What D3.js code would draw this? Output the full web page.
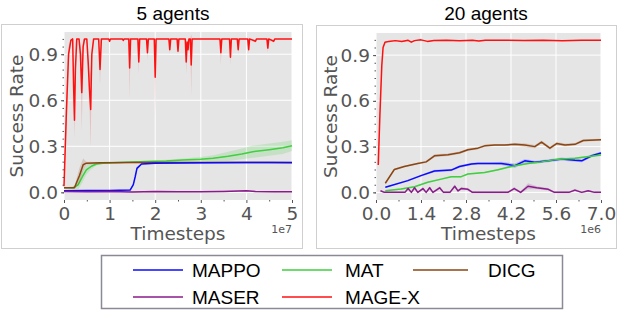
<!DOCTYPE html>
<meta charset="utf-8">
<style>
body { margin: 0; background: white; }
svg { display: block; }
.tick text { font-family: 'DejaVu Sans'; }
</style>
<body>
<div id="my_dataviz"></div>
<script src="https://d3js.org/d3.v7.min.js"></script>
<script>

// ---- data : [timestep, mean success, spread] ----

// 5 agents (x in 1e7)
var mageX5 = [
  [0,0.04,0],[0.05,0.5,0.1],[0.1,0.9,0.05],[0.15,0.99,0.01],[0.19,1.0,0],[0.21,0.7,0.1],
  [0.23,0.47,0.12],[0.25,0.8,0.05],[0.28,1.0,0],[0.33,1.0,0],[0.36,0.9,0.05],[0.39,0.65,0.25],
  [0.42,0.95,0.05],[0.45,1.0,0],[0.5,1.0,0],[0.53,0.85,0.05],[0.56,0.66,0.1],[0.585,0.54,0.25],
  [0.61,0.9,0.05],[0.65,1.0,0],[0.76,1.0,0],[0.79,0.8,0.1],[0.82,1.0,0],[0.98,1.0,0],
  [1.0,0.985,0.01],[1.02,1.0,0],[1.28,1.0,0],[1.3,0.99,0.01],[1.32,1.0,0],[1.42,1.0,0],
  [1.44,0.81,0.2],[1.46,1.0,0],[1.62,1.0,0],[1.64,0.85,0.08],[1.66,1.0,0],[1.81,1.0,0],
  [1.83,0.91,0.05],[1.85,1.0,0],[1.98,1.0,0],[2.0,0.75,0.25],[2.02,1.0,0],[2.3,1.0,0],
  [2.32,0.93,0.03],[2.34,1.0,0],[2.48,1.0,0],[2.5,0.92,0.03],[2.52,1.0,0],[2.66,1.0,0],
  [2.68,0.85,0.08],[2.7,0.98,0.02],[2.72,0.93,0.05],[2.74,1.0,0],[2.77,1.0,0],[2.79,0.83,0.2],
  [2.81,1.0,0],[3.42,1.0,0],[3.44,0.91,0.08],[3.46,1.0,0],[3.63,1.0,0],[3.65,0.88,0.05],
  [3.67,1.0,0],[3.8,1.0,0],[3.82,0.93,0.03],[3.84,1.0,0],[4.03,1.0,0],[4.05,0.93,0.03],
  [4.07,1.0,0],[4.2,0.985,0.01],[4.22,1.0,0],[4.45,1.0,0],[4.47,0.94,0.03],[4.49,1.0,0],
  [4.6,0.985,0.01],[4.62,1.0,0],[5.0,1.0,0]
];
var mat5 = [
  [0,0.03,0],[0.2,0.03,0.01],[0.31,0.048,0.03],[0.4,0.1,0.04],[0.49,0.146,0.03],[0.6,0.17,0.02],
  [0.71,0.185,0.01],[0.85,0.19,0.005],[1.07,0.193,0.005],[1.5,0.198,0.005],[2.0,0.202,0.006],
  [2.24,0.204,0.008],[2.6,0.21,0.01],[3.0,0.215,0.015],[3.27,0.222,0.02],[3.6,0.235,0.03],
  [3.9,0.25,0.035],[4.14,0.265,0.04],[4.5,0.278,0.04],[4.8,0.29,0.04],[5.0,0.304,0.035]
];
var dicg5 = [
  [0,0.03,0],[0.23,0.03,0.005],[0.285,0.07,0.03],[0.34,0.11,0.05],[0.42,0.18,0.04],
  [0.49,0.19,0.01],[0.8,0.193,0.005],[1.5,0.194,0.004],[2.5,0.194,0.004],[3.5,0.195,0.004],
  [4.5,0.194,0.004],[5.0,0.193,0.004]
];
var mappo5 = [
  [0,0.01,0],[0.5,0.012,0.003],[1.0,0.012,0.003],[1.45,0.015,0.004],[1.52,0.05,0.01],
  [1.56,0.1,0.01],[1.6,0.156,0.01],[1.7,0.185,0.005],[2.0,0.19,0.004],[3.0,0.192,0.004],
  [4.0,0.195,0.004],[5.0,0.195,0.004]
];
var maser5 = [
  [0,0.005,0.004],[0.5,0.003,0.004],[1.0,0.006,0.004],[1.5,0.002,0.004],[2.0,0.005,0.004],
  [2.5,0.003,0.004],[3.0,0.004,0.004],[3.5,0.006,0.004],[4.0,0.01,0.004],[4.2,0.005,0.004],
  [4.6,0.003,0.004],[5.0,0.004,0.004]
];

// 20 agents (x in 1e6)
var mageX20 = [
  [0.07,0.18,0.01],[0.12,0.5,0.02],[0.18,0.83,0.02],[0.22,0.95,0.01],[0.28,0.985,0.005],
  [0.4,0.99,0.004],[0.6,0.995,0.004],[0.8,0.99,0.004],[1.0,0.997,0.004],[1.1,0.985,0.004],
  [1.2,0.995,0.004],[1.4,1.0,0.003],[1.6,0.99,0.003],[1.8,0.996,0.003],[2.2,0.997,0.003],
  [2.6,0.995,0.003],[3.0,0.997,0.003],[3.2,0.992,0.003],[3.4,0.998,0.003],[4.0,0.997,0.003],
  [4.6,0.996,0.003],[5.2,0.997,0.003],[5.8,0.995,0.003],[6.4,0.997,0.003],[7.0,0.997,0.003]
];
var dicg20 = [
  [0.29,0.06,0.005],[0.57,0.15,0.006],[0.88,0.17,0.006],[1.3,0.19,0.006],[1.56,0.2,0.008],
  [1.82,0.24,0.01],[2.24,0.247,0.008],[2.6,0.26,0.008],[2.86,0.28,0.008],[3.17,0.29,0.008],
  [3.38,0.305,0.008],[3.69,0.31,0.006],[4.0,0.31,0.006],[4.32,0.315,0.008],[4.63,0.31,0.012],
  [4.94,0.3,0.01],[5.15,0.33,0.01],[5.41,0.29,0.01],[5.62,0.32,0.01],[5.88,0.31,0.01],
  [6.19,0.315,0.008],[6.45,0.34,0.008],[7.0,0.345,0.006]
];
var mappo20 = [
  [0.29,0.033,0.004],[0.99,0.077,0.005],[1.4,0.11,0.006],[1.82,0.14,0.008],[2.34,0.146,0.008],
  [2.6,0.17,0.008],[2.97,0.186,0.008],[3.17,0.19,0.008],[3.59,0.19,0.008],[3.9,0.19,0.01],
  [4.32,0.175,0.015],[4.63,0.207,0.012],[4.94,0.197,0.01],[5.36,0.207,0.01],[5.78,0.218,0.01],
  [6.19,0.21,0.01],[6.4,0.207,0.01],[6.71,0.24,0.01],[7.0,0.258,0.008]
];
var mat20 = [
  [0.29,0.011,0.003],[0.78,0.022,0.004],[1.2,0.037,0.004],[1.61,0.066,0.005],[2.03,0.087,0.005],
  [2.34,0.103,0.005],[2.65,0.103,0.005],[2.86,0.12,0.005],[3.38,0.13,0.005],[3.8,0.149,0.006],
  [4.32,0.175,0.006],[4.73,0.19,0.006],[5.15,0.2,0.006],[5.67,0.218,0.006],[6.19,0.223,0.006],
  [7.0,0.245,0.006]
];
var maser20 = [
  [0.14,0.011,0.005],[0.26,0.0,0.004],[0.9,0.0,0.004],[1.0,0.025,0.01],[1.1,0.0,0.006],
  [1.2,0.03,0.01],[1.3,0.0,0.006],[1.46,0.025,0.01],[1.56,0.0,0.006],[1.67,0.03,0.01],
  [1.77,0.0,0.006],[1.98,0.03,0.01],[2.1,0.0,0.006],[2.3,0.0,0.006],[2.45,0.04,0.012],
  [2.55,0.01,0.008],[2.65,0.025,0.01],[2.86,0.02,0.008],[3.0,0.0,0.006],[4.1,0.0,0.006],
  [4.3,0.025,0.01],[4.5,0.0,0.006],[4.73,0.04,0.02],[5.0,0.03,0.01],[5.36,0.02,0.008],
  [5.55,0.0,0.006],[6.0,0.0,0.006],[6.19,0.015,0.008],[6.4,0.0,0.006],[6.6,0.01,0.006],
  [6.8,0.0,0.006],[7.0,0.0,0.004]
];

// ticks / labels
var yTicks = [0.0, 0.3, 0.6, 0.9];
var xTicks5 = [0, 1, 2, 3, 4, 5];
var xTicks20 = [0.0, 1.4, 2.8, 4.2, 5.6, 7.0];
var legendNames = ["MAPPO", "MASER", "MAT", "MAGE-X", "DICG"];
var legendColors = ["#0a0aff", "#8b1a8b", "#3fcf3f", "#ff1010", "#8b4513"];

var colors = {
  mappo: "#0a0aff", maser: "#8b1a8b", mat: "#3fcf3f", magex: "#ff1010", dicg: "#8b4513"
};

var W = 618, H = 310;

var svg = d3.select("#my_dataviz")
  .append("svg")
    .attr("width", W)
    .attr("height", H);

function drawPanel(p) {
  // outer frame
  svg.append("rect")
    .attr("x", p.box[0]).attr("y", p.box[1])
    .attr("width", p.box[2]).attr("height", p.box[3])
    .attr("fill", "none")
    .attr("stroke", "#cfcfcf")
    .attr("stroke-width", 1);

  // title
  svg.append("text")
    .attr("x", p.titleX).attr("y", 20)
    .attr("text-anchor", "middle")
    .style("font-family", "'Liberation Sans', Arial")
    .style("font-size", "19px")
    .text(p.title);

  var x = d3.scaleLinear().domain(p.xDomain).range([p.left, p.right]);
  var y = d3.scaleLinear().domain([-0.05, 1.045]).range([200, p.top]);

  // gray plot area
  svg.append("rect")
    .attr("x", p.left).attr("y", p.top)
    .attr("width", p.right - p.left).attr("height", 200 - p.top)
    .attr("fill", "#e5e5e5");

  // white grid
  var g = svg.append("g");
  g.selectAll(".gx").data(p.xTicks).enter().append("line")
    .attr("x1", d => x(d)).attr("x2", d => x(d))
    .attr("y1", p.top).attr("y2", 200)
    .attr("stroke", "white").attr("stroke-width", 1);
  g.selectAll(".gy").data(yTicks).enter().append("line")
    .attr("x1", p.left).attr("x2", p.right)
    .attr("y1", d => y(d)).attr("y2", d => y(d))
    .attr("stroke", "white").attr("stroke-width", 1);

  // series: shaded band + line
  var area = d3.area()
    .x(d => x(d[0]))
    .y0(d => y(d[1] - d[2]))
    .y1(d => y(d[1] + d[2]));
  var line = d3.line()
    .x(d => x(d[0]))
    .y(d => y(d[1]));

  p.series.forEach(function(s) {
    svg.append("path")
      .datum(s.data)
      .attr("fill", s.color)
      .attr("fill-opacity", 0.18)
      .attr("d", area);
    svg.append("path")
      .datum(s.data)
      .attr("fill", "none")
      .attr("stroke", s.color)
      .attr("stroke-width", 1.5)
      .attr("stroke-linejoin", "round")
      .attr("d", line);
  });

  // axes
  var yAxis = svg.append("g")
    .attr("transform", "translate(" + p.left + ",0)")
    .call(d3.axisLeft(y).tickValues(yTicks).tickFormat(d3.format(".1f")).tickSize(3).tickPadding(3));
  var yMinor = svg.append("g")
    .attr("transform", "translate(" + p.left + ",0)")
    .call(d3.axisLeft(y).tickValues(d3.range(0, 1.04, 0.05)).tickFormat("").tickSize(1.5));
  var xAxis = svg.append("g")
    .attr("transform", "translate(0,200)")
    .call(d3.axisBottom(x).tickValues(p.xTicks).tickFormat(p.xFormat).tickSize(3).tickPadding(4));
  var xMinor = svg.append("g")
    .attr("transform", "translate(0,200)")
    .call(d3.axisBottom(x).tickValues(p.xMinor).tickFormat("").tickSize(1.5));

  [yAxis, yMinor, xAxis, xMinor].forEach(function(a) {
    a.select(".domain").remove();
    a.selectAll("line").attr("stroke", "#555");
    a.selectAll("text").attr("fill", "#555").style("font-size", "18.5px");
  });

  // axis labels
  svg.append("text")
    .attr("transform", "translate(" + p.yLabelX + "," + ((200 + p.top) / 2) + ") rotate(-90)")
    .attr("text-anchor", "middle")
    .style("font-family", "'DejaVu Sans'")
    .style("font-size", "18.5px")
    .attr("fill", "#555")
    .text("Success Rate");

  svg.append("text")
    .attr("x", (p.left + p.right) / 2).attr("y", 240)
    .attr("text-anchor", "middle")
    .style("font-family", "'DejaVu Sans'")
    .style("font-size", "18.5px")
    .attr("fill", "#555")
    .text("Timesteps");

  svg.append("text")
    .attr("x", p.right).attr("y", 233)
    .attr("text-anchor", "end")
    .style("font-family", "'DejaVu Sans'")
    .style("font-size", "11px")
    .attr("fill", "#555")
    .text(p.scaleNote);
}

drawPanel({
  title: "5 agents", titleX: 173,
  box: [1.5, 24.5, 301, 224],
  left: 64, right: 292, top: 32,
  xDomain: [0, 5], xTicks: xTicks5, xMinor: d3.range(0.5, 5, 1), xFormat: d3.format("d"),
  yLabelX: 23, scaleNote: "1e7",
  series: [
    { data: mageX5, color: colors.magex },
    { data: mat5, color: colors.mat },
    { data: dicg5, color: colors.dicg },
    { data: mappo5, color: colors.mappo },
    { data: maser5, color: colors.maser }
  ]
});

drawPanel({
  title: "20 agents", titleX: 486,
  box: [316.5, 25.5, 300, 223],
  left: 376, right: 601, top: 33,
  xDomain: [0, 7], xTicks: xTicks20, xMinor: d3.range(0.7, 7, 1.4), xFormat: d3.format(".1f"),
  yLabelX: 337, scaleNote: "1e6",
  series: [
    { data: mageX20, color: colors.magex },
    { data: dicg20, color: colors.dicg },
    { data: mappo20, color: colors.mappo },
    { data: mat20, color: colors.mat },
    { data: maser20, color: colors.maser }
  ]
});

// legend
svg.append("rect")
  .attr("x", 101.5).attr("y", 255.5)
  .attr("width", 461).attr("height", 53)
  .attr("fill", "white")
  .attr("stroke", "#8a8a96")
  .attr("stroke-width", 1.5);

var colX = [133, 282, 413];
var rowY = [270, 297];
var leg = svg.selectAll(".leg")
  .data(legendNames)
  .enter().append("g")
  .attr("transform", function(d, i) {
    return "translate(" + colX[Math.floor(i / 2)] + "," + rowY[i % 2] + ")";
  });
leg.append("line")
  .attr("x1", 0).attr("x2", function(d, i) { return i >= 4 ? 55 : 50; })
  .attr("y1", 0).attr("y2", 0)
  .attr("stroke", (d, i) => legendColors[i])
  .attr("stroke-opacity", 0.75)
  .attr("stroke-width", 2);
leg.append("text")
  .attr("x", function(d, i) { return [59, 63, 75][Math.floor(i / 2)]; })
  .attr("y", 7)
  .style("font-family", "'Liberation Sans', Arial")
  .style("font-size", "19px")
  .text(d => d);

</script>
</body>
